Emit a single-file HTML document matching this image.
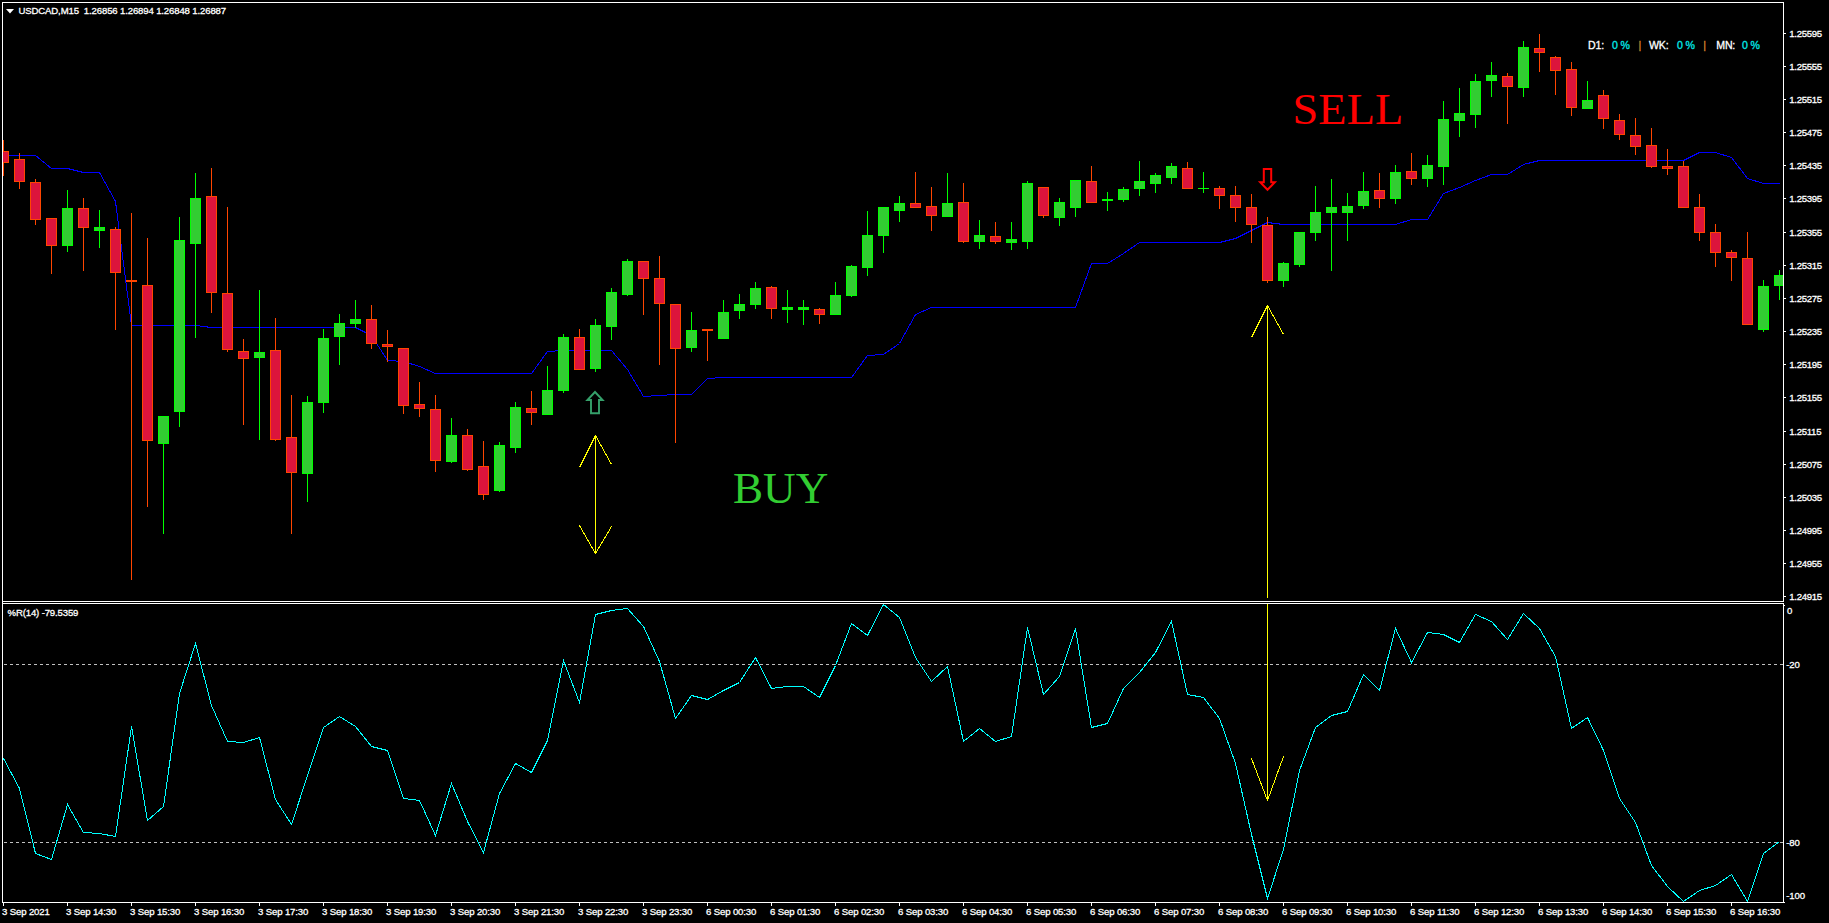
<!DOCTYPE html>
<html><head><meta charset="utf-8"><title>USDCAD,M15</title>
<style>
html,body{margin:0;padding:0;background:#000;}
body{width:1829px;height:923px;overflow:hidden;position:relative;}
svg{position:absolute;left:0;top:0;display:block;}
.t{font-family:"Liberation Sans",sans-serif;font-size:9.6px;letter-spacing:-0.15px;fill:#fff;stroke:#fff;stroke-width:0.3px;}
.n{letter-spacing:-0.3px;}
.d{font-size:10.6px;letter-spacing:-0.2px;}
.big{font-family:"Liberation Serif",serif;font-size:44.7px;}
</style></head><body>
<svg width="1829" height="923" viewBox="0 0 1829 923">
<rect width="1829" height="923" fill="#000"/>
<defs><clipPath id="cm"><rect x="3" y="3" width="1780" height="598"/></clipPath><clipPath id="ci"><rect x="3" y="604" width="1780" height="298"/></clipPath></defs>
<g fill="#fff" shape-rendering="crispEdges">
<rect x="2" y="2" width="1782" height="1"/>
<rect x="2" y="2" width="1" height="901"/>
<rect x="1783" y="2" width="1" height="901"/>
<rect x="2" y="601" width="1782" height="1"/>
<rect x="2" y="603" width="1782" height="1"/>
<rect x="2" y="902" width="1783" height="1"/>
<rect x="1784" y="33" width="2" height="1"/>
<rect x="1784" y="66" width="2" height="1"/>
<rect x="1784" y="99" width="2" height="1"/>
<rect x="1784" y="132" width="2" height="1"/>
<rect x="1784" y="165" width="2" height="1"/>
<rect x="1784" y="198" width="2" height="1"/>
<rect x="1784" y="232" width="2" height="1"/>
<rect x="1784" y="265" width="2" height="1"/>
<rect x="1784" y="298" width="2" height="1"/>
<rect x="1784" y="331" width="2" height="1"/>
<rect x="1784" y="364" width="2" height="1"/>
<rect x="1784" y="397" width="2" height="1"/>
<rect x="1784" y="431" width="2" height="1"/>
<rect x="1784" y="464" width="2" height="1"/>
<rect x="1784" y="497" width="2" height="1"/>
<rect x="1784" y="530" width="2" height="1"/>
<rect x="1784" y="563" width="2" height="1"/>
<rect x="1784" y="596" width="2" height="1"/>
<rect x="3" y="903" width="1" height="3"/>
<rect x="67" y="903" width="1" height="3"/>
<rect x="131" y="903" width="1" height="3"/>
<rect x="195" y="903" width="1" height="3"/>
<rect x="259" y="903" width="1" height="3"/>
<rect x="323" y="903" width="1" height="3"/>
<rect x="387" y="903" width="1" height="3"/>
<rect x="451" y="903" width="1" height="3"/>
<rect x="515" y="903" width="1" height="3"/>
<rect x="579" y="903" width="1" height="3"/>
<rect x="643" y="903" width="1" height="3"/>
<rect x="707" y="903" width="1" height="3"/>
<rect x="771" y="903" width="1" height="3"/>
<rect x="835" y="903" width="1" height="3"/>
<rect x="899" y="903" width="1" height="3"/>
<rect x="963" y="903" width="1" height="3"/>
<rect x="1027" y="903" width="1" height="3"/>
<rect x="1091" y="903" width="1" height="3"/>
<rect x="1155" y="903" width="1" height="3"/>
<rect x="1219" y="903" width="1" height="3"/>
<rect x="1283" y="903" width="1" height="3"/>
<rect x="1347" y="903" width="1" height="3"/>
<rect x="1411" y="903" width="1" height="3"/>
<rect x="1475" y="903" width="1" height="3"/>
<rect x="1539" y="903" width="1" height="3"/>
<rect x="1603" y="903" width="1" height="3"/>
<rect x="1667" y="903" width="1" height="3"/>
<rect x="1731" y="903" width="1" height="3"/>
<rect x="1784" y="605" width="1" height="1"/>
</g>
<rect x="1783" y="602" width="1" height="1" fill="#000" shape-rendering="crispEdges"/>
<g fill="#c0c0c0" shape-rendering="crispEdges">
<path d="M4 664h3v1h-3zM10 664h3v1h-3zM16 664h3v1h-3zM22 664h3v1h-3zM28 664h3v1h-3zM34 664h3v1h-3zM40 664h3v1h-3zM46 664h3v1h-3zM52 664h3v1h-3zM58 664h3v1h-3zM64 664h3v1h-3zM70 664h3v1h-3zM76 664h3v1h-3zM82 664h3v1h-3zM88 664h3v1h-3zM94 664h3v1h-3zM100 664h3v1h-3zM106 664h3v1h-3zM112 664h3v1h-3zM118 664h3v1h-3zM124 664h3v1h-3zM130 664h3v1h-3zM136 664h3v1h-3zM142 664h3v1h-3zM148 664h3v1h-3zM154 664h3v1h-3zM160 664h3v1h-3zM166 664h3v1h-3zM172 664h3v1h-3zM178 664h3v1h-3zM184 664h3v1h-3zM190 664h3v1h-3zM196 664h3v1h-3zM202 664h3v1h-3zM208 664h3v1h-3zM214 664h3v1h-3zM220 664h3v1h-3zM226 664h3v1h-3zM232 664h3v1h-3zM238 664h3v1h-3zM244 664h3v1h-3zM250 664h3v1h-3zM256 664h3v1h-3zM262 664h3v1h-3zM268 664h3v1h-3zM274 664h3v1h-3zM280 664h3v1h-3zM286 664h3v1h-3zM292 664h3v1h-3zM298 664h3v1h-3zM304 664h3v1h-3zM310 664h3v1h-3zM316 664h3v1h-3zM322 664h3v1h-3zM328 664h3v1h-3zM334 664h3v1h-3zM340 664h3v1h-3zM346 664h3v1h-3zM352 664h3v1h-3zM358 664h3v1h-3zM364 664h3v1h-3zM370 664h3v1h-3zM376 664h3v1h-3zM382 664h3v1h-3zM388 664h3v1h-3zM394 664h3v1h-3zM400 664h3v1h-3zM406 664h3v1h-3zM412 664h3v1h-3zM418 664h3v1h-3zM424 664h3v1h-3zM430 664h3v1h-3zM436 664h3v1h-3zM442 664h3v1h-3zM448 664h3v1h-3zM454 664h3v1h-3zM460 664h3v1h-3zM466 664h3v1h-3zM472 664h3v1h-3zM478 664h3v1h-3zM484 664h3v1h-3zM490 664h3v1h-3zM496 664h3v1h-3zM502 664h3v1h-3zM508 664h3v1h-3zM514 664h3v1h-3zM520 664h3v1h-3zM526 664h3v1h-3zM532 664h3v1h-3zM538 664h3v1h-3zM544 664h3v1h-3zM550 664h3v1h-3zM556 664h3v1h-3zM562 664h3v1h-3zM568 664h3v1h-3zM574 664h3v1h-3zM580 664h3v1h-3zM586 664h3v1h-3zM592 664h3v1h-3zM598 664h3v1h-3zM604 664h3v1h-3zM610 664h3v1h-3zM616 664h3v1h-3zM622 664h3v1h-3zM628 664h3v1h-3zM634 664h3v1h-3zM640 664h3v1h-3zM646 664h3v1h-3zM652 664h3v1h-3zM658 664h3v1h-3zM664 664h3v1h-3zM670 664h3v1h-3zM676 664h3v1h-3zM682 664h3v1h-3zM688 664h3v1h-3zM694 664h3v1h-3zM700 664h3v1h-3zM706 664h3v1h-3zM712 664h3v1h-3zM718 664h3v1h-3zM724 664h3v1h-3zM730 664h3v1h-3zM736 664h3v1h-3zM742 664h3v1h-3zM748 664h3v1h-3zM754 664h3v1h-3zM760 664h3v1h-3zM766 664h3v1h-3zM772 664h3v1h-3zM778 664h3v1h-3zM784 664h3v1h-3zM790 664h3v1h-3zM796 664h3v1h-3zM802 664h3v1h-3zM808 664h3v1h-3zM814 664h3v1h-3zM820 664h3v1h-3zM826 664h3v1h-3zM832 664h3v1h-3zM838 664h3v1h-3zM844 664h3v1h-3zM850 664h3v1h-3zM856 664h3v1h-3zM862 664h3v1h-3zM868 664h3v1h-3zM874 664h3v1h-3zM880 664h3v1h-3zM886 664h3v1h-3zM892 664h3v1h-3zM898 664h3v1h-3zM904 664h3v1h-3zM910 664h3v1h-3zM916 664h3v1h-3zM922 664h3v1h-3zM928 664h3v1h-3zM934 664h3v1h-3zM940 664h3v1h-3zM946 664h3v1h-3zM952 664h3v1h-3zM958 664h3v1h-3zM964 664h3v1h-3zM970 664h3v1h-3zM976 664h3v1h-3zM982 664h3v1h-3zM988 664h3v1h-3zM994 664h3v1h-3zM1000 664h3v1h-3zM1006 664h3v1h-3zM1012 664h3v1h-3zM1018 664h3v1h-3zM1024 664h3v1h-3zM1030 664h3v1h-3zM1036 664h3v1h-3zM1042 664h3v1h-3zM1048 664h3v1h-3zM1054 664h3v1h-3zM1060 664h3v1h-3zM1066 664h3v1h-3zM1072 664h3v1h-3zM1078 664h3v1h-3zM1084 664h3v1h-3zM1090 664h3v1h-3zM1096 664h3v1h-3zM1102 664h3v1h-3zM1108 664h3v1h-3zM1114 664h3v1h-3zM1120 664h3v1h-3zM1126 664h3v1h-3zM1132 664h3v1h-3zM1138 664h3v1h-3zM1144 664h3v1h-3zM1150 664h3v1h-3zM1156 664h3v1h-3zM1162 664h3v1h-3zM1168 664h3v1h-3zM1174 664h3v1h-3zM1180 664h3v1h-3zM1186 664h3v1h-3zM1192 664h3v1h-3zM1198 664h3v1h-3zM1204 664h3v1h-3zM1210 664h3v1h-3zM1216 664h3v1h-3zM1222 664h3v1h-3zM1228 664h3v1h-3zM1234 664h3v1h-3zM1240 664h3v1h-3zM1246 664h3v1h-3zM1252 664h3v1h-3zM1258 664h3v1h-3zM1264 664h3v1h-3zM1270 664h3v1h-3zM1276 664h3v1h-3zM1282 664h3v1h-3zM1288 664h3v1h-3zM1294 664h3v1h-3zM1300 664h3v1h-3zM1306 664h3v1h-3zM1312 664h3v1h-3zM1318 664h3v1h-3zM1324 664h3v1h-3zM1330 664h3v1h-3zM1336 664h3v1h-3zM1342 664h3v1h-3zM1348 664h3v1h-3zM1354 664h3v1h-3zM1360 664h3v1h-3zM1366 664h3v1h-3zM1372 664h3v1h-3zM1378 664h3v1h-3zM1384 664h3v1h-3zM1390 664h3v1h-3zM1396 664h3v1h-3zM1402 664h3v1h-3zM1408 664h3v1h-3zM1414 664h3v1h-3zM1420 664h3v1h-3zM1426 664h3v1h-3zM1432 664h3v1h-3zM1438 664h3v1h-3zM1444 664h3v1h-3zM1450 664h3v1h-3zM1456 664h3v1h-3zM1462 664h3v1h-3zM1468 664h3v1h-3zM1474 664h3v1h-3zM1480 664h3v1h-3zM1486 664h3v1h-3zM1492 664h3v1h-3zM1498 664h3v1h-3zM1504 664h3v1h-3zM1510 664h3v1h-3zM1516 664h3v1h-3zM1522 664h3v1h-3zM1528 664h3v1h-3zM1534 664h3v1h-3zM1540 664h3v1h-3zM1546 664h3v1h-3zM1552 664h3v1h-3zM1558 664h3v1h-3zM1564 664h3v1h-3zM1570 664h3v1h-3zM1576 664h3v1h-3zM1582 664h3v1h-3zM1588 664h3v1h-3zM1594 664h3v1h-3zM1600 664h3v1h-3zM1606 664h3v1h-3zM1612 664h3v1h-3zM1618 664h3v1h-3zM1624 664h3v1h-3zM1630 664h3v1h-3zM1636 664h3v1h-3zM1642 664h3v1h-3zM1648 664h3v1h-3zM1654 664h3v1h-3zM1660 664h3v1h-3zM1666 664h3v1h-3zM1672 664h3v1h-3zM1678 664h3v1h-3zM1684 664h3v1h-3zM1690 664h3v1h-3zM1696 664h3v1h-3zM1702 664h3v1h-3zM1708 664h3v1h-3zM1714 664h3v1h-3zM1720 664h3v1h-3zM1726 664h3v1h-3zM1732 664h3v1h-3zM1738 664h3v1h-3zM1744 664h3v1h-3zM1750 664h3v1h-3zM1756 664h3v1h-3zM1762 664h3v1h-3zM1768 664h3v1h-3zM1774 664h3v1h-3zM1780 664h3v1h-3z"/>
<path d="M4 842h3v1h-3zM10 842h3v1h-3zM16 842h3v1h-3zM22 842h3v1h-3zM28 842h3v1h-3zM34 842h3v1h-3zM40 842h3v1h-3zM46 842h3v1h-3zM52 842h3v1h-3zM58 842h3v1h-3zM64 842h3v1h-3zM70 842h3v1h-3zM76 842h3v1h-3zM82 842h3v1h-3zM88 842h3v1h-3zM94 842h3v1h-3zM100 842h3v1h-3zM106 842h3v1h-3zM112 842h3v1h-3zM118 842h3v1h-3zM124 842h3v1h-3zM130 842h3v1h-3zM136 842h3v1h-3zM142 842h3v1h-3zM148 842h3v1h-3zM154 842h3v1h-3zM160 842h3v1h-3zM166 842h3v1h-3zM172 842h3v1h-3zM178 842h3v1h-3zM184 842h3v1h-3zM190 842h3v1h-3zM196 842h3v1h-3zM202 842h3v1h-3zM208 842h3v1h-3zM214 842h3v1h-3zM220 842h3v1h-3zM226 842h3v1h-3zM232 842h3v1h-3zM238 842h3v1h-3zM244 842h3v1h-3zM250 842h3v1h-3zM256 842h3v1h-3zM262 842h3v1h-3zM268 842h3v1h-3zM274 842h3v1h-3zM280 842h3v1h-3zM286 842h3v1h-3zM292 842h3v1h-3zM298 842h3v1h-3zM304 842h3v1h-3zM310 842h3v1h-3zM316 842h3v1h-3zM322 842h3v1h-3zM328 842h3v1h-3zM334 842h3v1h-3zM340 842h3v1h-3zM346 842h3v1h-3zM352 842h3v1h-3zM358 842h3v1h-3zM364 842h3v1h-3zM370 842h3v1h-3zM376 842h3v1h-3zM382 842h3v1h-3zM388 842h3v1h-3zM394 842h3v1h-3zM400 842h3v1h-3zM406 842h3v1h-3zM412 842h3v1h-3zM418 842h3v1h-3zM424 842h3v1h-3zM430 842h3v1h-3zM436 842h3v1h-3zM442 842h3v1h-3zM448 842h3v1h-3zM454 842h3v1h-3zM460 842h3v1h-3zM466 842h3v1h-3zM472 842h3v1h-3zM478 842h3v1h-3zM484 842h3v1h-3zM490 842h3v1h-3zM496 842h3v1h-3zM502 842h3v1h-3zM508 842h3v1h-3zM514 842h3v1h-3zM520 842h3v1h-3zM526 842h3v1h-3zM532 842h3v1h-3zM538 842h3v1h-3zM544 842h3v1h-3zM550 842h3v1h-3zM556 842h3v1h-3zM562 842h3v1h-3zM568 842h3v1h-3zM574 842h3v1h-3zM580 842h3v1h-3zM586 842h3v1h-3zM592 842h3v1h-3zM598 842h3v1h-3zM604 842h3v1h-3zM610 842h3v1h-3zM616 842h3v1h-3zM622 842h3v1h-3zM628 842h3v1h-3zM634 842h3v1h-3zM640 842h3v1h-3zM646 842h3v1h-3zM652 842h3v1h-3zM658 842h3v1h-3zM664 842h3v1h-3zM670 842h3v1h-3zM676 842h3v1h-3zM682 842h3v1h-3zM688 842h3v1h-3zM694 842h3v1h-3zM700 842h3v1h-3zM706 842h3v1h-3zM712 842h3v1h-3zM718 842h3v1h-3zM724 842h3v1h-3zM730 842h3v1h-3zM736 842h3v1h-3zM742 842h3v1h-3zM748 842h3v1h-3zM754 842h3v1h-3zM760 842h3v1h-3zM766 842h3v1h-3zM772 842h3v1h-3zM778 842h3v1h-3zM784 842h3v1h-3zM790 842h3v1h-3zM796 842h3v1h-3zM802 842h3v1h-3zM808 842h3v1h-3zM814 842h3v1h-3zM820 842h3v1h-3zM826 842h3v1h-3zM832 842h3v1h-3zM838 842h3v1h-3zM844 842h3v1h-3zM850 842h3v1h-3zM856 842h3v1h-3zM862 842h3v1h-3zM868 842h3v1h-3zM874 842h3v1h-3zM880 842h3v1h-3zM886 842h3v1h-3zM892 842h3v1h-3zM898 842h3v1h-3zM904 842h3v1h-3zM910 842h3v1h-3zM916 842h3v1h-3zM922 842h3v1h-3zM928 842h3v1h-3zM934 842h3v1h-3zM940 842h3v1h-3zM946 842h3v1h-3zM952 842h3v1h-3zM958 842h3v1h-3zM964 842h3v1h-3zM970 842h3v1h-3zM976 842h3v1h-3zM982 842h3v1h-3zM988 842h3v1h-3zM994 842h3v1h-3zM1000 842h3v1h-3zM1006 842h3v1h-3zM1012 842h3v1h-3zM1018 842h3v1h-3zM1024 842h3v1h-3zM1030 842h3v1h-3zM1036 842h3v1h-3zM1042 842h3v1h-3zM1048 842h3v1h-3zM1054 842h3v1h-3zM1060 842h3v1h-3zM1066 842h3v1h-3zM1072 842h3v1h-3zM1078 842h3v1h-3zM1084 842h3v1h-3zM1090 842h3v1h-3zM1096 842h3v1h-3zM1102 842h3v1h-3zM1108 842h3v1h-3zM1114 842h3v1h-3zM1120 842h3v1h-3zM1126 842h3v1h-3zM1132 842h3v1h-3zM1138 842h3v1h-3zM1144 842h3v1h-3zM1150 842h3v1h-3zM1156 842h3v1h-3zM1162 842h3v1h-3zM1168 842h3v1h-3zM1174 842h3v1h-3zM1180 842h3v1h-3zM1186 842h3v1h-3zM1192 842h3v1h-3zM1198 842h3v1h-3zM1204 842h3v1h-3zM1210 842h3v1h-3zM1216 842h3v1h-3zM1222 842h3v1h-3zM1228 842h3v1h-3zM1234 842h3v1h-3zM1240 842h3v1h-3zM1246 842h3v1h-3zM1252 842h3v1h-3zM1258 842h3v1h-3zM1264 842h3v1h-3zM1270 842h3v1h-3zM1276 842h3v1h-3zM1282 842h3v1h-3zM1288 842h3v1h-3zM1294 842h3v1h-3zM1300 842h3v1h-3zM1306 842h3v1h-3zM1312 842h3v1h-3zM1318 842h3v1h-3zM1324 842h3v1h-3zM1330 842h3v1h-3zM1336 842h3v1h-3zM1342 842h3v1h-3zM1348 842h3v1h-3zM1354 842h3v1h-3zM1360 842h3v1h-3zM1366 842h3v1h-3zM1372 842h3v1h-3zM1378 842h3v1h-3zM1384 842h3v1h-3zM1390 842h3v1h-3zM1396 842h3v1h-3zM1402 842h3v1h-3zM1408 842h3v1h-3zM1414 842h3v1h-3zM1420 842h3v1h-3zM1426 842h3v1h-3zM1432 842h3v1h-3zM1438 842h3v1h-3zM1444 842h3v1h-3zM1450 842h3v1h-3zM1456 842h3v1h-3zM1462 842h3v1h-3zM1468 842h3v1h-3zM1474 842h3v1h-3zM1480 842h3v1h-3zM1486 842h3v1h-3zM1492 842h3v1h-3zM1498 842h3v1h-3zM1504 842h3v1h-3zM1510 842h3v1h-3zM1516 842h3v1h-3zM1522 842h3v1h-3zM1528 842h3v1h-3zM1534 842h3v1h-3zM1540 842h3v1h-3zM1546 842h3v1h-3zM1552 842h3v1h-3zM1558 842h3v1h-3zM1564 842h3v1h-3zM1570 842h3v1h-3zM1576 842h3v1h-3zM1582 842h3v1h-3zM1588 842h3v1h-3zM1594 842h3v1h-3zM1600 842h3v1h-3zM1606 842h3v1h-3zM1612 842h3v1h-3zM1618 842h3v1h-3zM1624 842h3v1h-3zM1630 842h3v1h-3zM1636 842h3v1h-3zM1642 842h3v1h-3zM1648 842h3v1h-3zM1654 842h3v1h-3zM1660 842h3v1h-3zM1666 842h3v1h-3zM1672 842h3v1h-3zM1678 842h3v1h-3zM1684 842h3v1h-3zM1690 842h3v1h-3zM1696 842h3v1h-3zM1702 842h3v1h-3zM1708 842h3v1h-3zM1714 842h3v1h-3zM1720 842h3v1h-3zM1726 842h3v1h-3zM1732 842h3v1h-3zM1738 842h3v1h-3zM1744 842h3v1h-3zM1750 842h3v1h-3zM1756 842h3v1h-3zM1762 842h3v1h-3zM1768 842h3v1h-3zM1774 842h3v1h-3zM1780 842h3v1h-3z"/>
</g>
<g clip-path="url(#cm)" shape-rendering="crispEdges">
<polyline points="3.5,155.5 19.5,155.5 35.5,155.5 51.5,168.5 67.5,168.5 83.5,172.5 99.5,172.5 115.5,201.5 131.5,325.5 147.5,325.5 163.5,325.5 179.5,325.5 195.5,325.5 211.5,327.5 227.5,327.5 243.5,327.5 259.5,327.5 275.5,327.5 291.5,327.5 307.5,327.5 323.5,327.5 339.5,327.5 355.5,327.5 371.5,335.5 387.5,360.5 403.5,361.5 419.5,366.5 435.5,373.5 451.5,373.5 467.5,373.5 483.5,373.5 499.5,373.5 515.5,373.5 531.5,373.5 547.5,351.5 563.5,350.5 579.5,350.5 595.5,350.5 611.5,350.5 627.5,369.5 643.5,396.5 659.5,395.5 675.5,394.5 691.5,394.5 707.5,378.5 723.5,377.5 739.5,377.5 755.5,377.5 771.5,377.5 787.5,377.5 803.5,377.5 819.5,377.5 835.5,377.5 851.5,377.5 867.5,355.5 883.5,354.5 899.5,343.5 915.5,314.5 931.5,307.5 947.5,307.5 963.5,307.5 979.5,307.5 995.5,307.5 1011.5,307.5 1027.5,307.5 1043.5,307.5 1059.5,307.5 1075.5,307.5 1091.5,263.5 1107.5,263.5 1123.5,253.5 1139.5,242.5 1155.5,242.5 1171.5,242.5 1187.5,242.5 1203.5,242.5 1219.5,242.5 1235.5,238.5 1251.5,230.5 1267.5,222.5 1283.5,224.5 1299.5,224.5 1315.5,224.5 1331.5,224.5 1347.5,224.5 1363.5,224.5 1379.5,224.5 1395.5,224.5 1411.5,219.5 1427.5,219.5 1443.5,193.5 1459.5,187.5 1475.5,180.5 1491.5,174.5 1507.5,174.5 1523.5,164.5 1539.5,160.5 1555.5,160.5 1571.5,160.5 1587.5,160.5 1603.5,160.5 1619.5,160.5 1635.5,160.5 1651.5,160.5 1667.5,160.5 1683.5,160.5 1699.5,152.5 1715.5,152.5 1731.5,157.5 1747.5,178.5 1763.5,183.5 1779.5,183.5" fill="none" stroke="#0000ff" stroke-width="1"/>
<rect x="3" y="140" width="1" height="36" fill="#ff4500"/><rect x="-2" y="151" width="11" height="12" fill="#ff4500"/><rect x="-1" y="152" width="9" height="10" fill="#dc143c"/>
<rect x="19" y="153" width="1" height="36" fill="#ff4500"/><rect x="14" y="159" width="11" height="23" fill="#ff4500"/><rect x="15" y="160" width="9" height="21" fill="#dc143c"/>
<rect x="35" y="179" width="1" height="46" fill="#ff4500"/><rect x="30" y="182" width="11" height="38" fill="#ff4500"/><rect x="31" y="183" width="9" height="36" fill="#dc143c"/>
<rect x="51" y="218" width="1" height="56" fill="#ff4500"/><rect x="46" y="218" width="11" height="28" fill="#ff4500"/><rect x="47" y="219" width="9" height="26" fill="#dc143c"/>
<rect x="67" y="190" width="1" height="62" fill="#00ff00"/><rect x="62" y="208" width="11" height="38" fill="#00ff00"/><rect x="63" y="209" width="9" height="36" fill="#32cd32"/>
<rect x="83" y="198" width="1" height="73" fill="#ff4500"/><rect x="78" y="208" width="11" height="20" fill="#ff4500"/><rect x="79" y="209" width="9" height="18" fill="#dc143c"/>
<rect x="99" y="210" width="1" height="38" fill="#00ff00"/><rect x="94" y="227" width="11" height="4" fill="#00ff00"/><rect x="95" y="228" width="9" height="2" fill="#32cd32"/>
<rect x="115" y="227" width="1" height="103" fill="#ff4500"/><rect x="110" y="229" width="11" height="44" fill="#ff4500"/><rect x="111" y="230" width="9" height="42" fill="#dc143c"/>
<rect x="131" y="213" width="1" height="367" fill="#ff4500"/><rect x="126" y="280" width="11" height="2" fill="#ff4500"/>
<rect x="147" y="238" width="1" height="269" fill="#ff4500"/><rect x="142" y="285" width="11" height="156" fill="#ff4500"/><rect x="143" y="286" width="9" height="154" fill="#dc143c"/>
<rect x="163" y="416" width="1" height="118" fill="#00ff00"/><rect x="158" y="416" width="11" height="28" fill="#00ff00"/><rect x="159" y="417" width="9" height="26" fill="#32cd32"/>
<rect x="179" y="217" width="1" height="210" fill="#00ff00"/><rect x="174" y="240" width="11" height="172" fill="#00ff00"/><rect x="175" y="241" width="9" height="170" fill="#32cd32"/>
<rect x="195" y="173" width="1" height="165" fill="#00ff00"/><rect x="190" y="198" width="11" height="46" fill="#00ff00"/><rect x="191" y="199" width="9" height="44" fill="#32cd32"/>
<rect x="211" y="168" width="1" height="145" fill="#ff4500"/><rect x="206" y="196" width="11" height="97" fill="#ff4500"/><rect x="207" y="197" width="9" height="95" fill="#dc143c"/>
<rect x="227" y="207" width="1" height="145" fill="#ff4500"/><rect x="222" y="293" width="11" height="57" fill="#ff4500"/><rect x="223" y="294" width="9" height="55" fill="#dc143c"/>
<rect x="243" y="339" width="1" height="86" fill="#ff4500"/><rect x="238" y="351" width="11" height="8" fill="#ff4500"/><rect x="239" y="352" width="9" height="6" fill="#dc143c"/>
<rect x="259" y="290" width="1" height="150" fill="#00ff00"/><rect x="254" y="352" width="11" height="6" fill="#00ff00"/><rect x="255" y="353" width="9" height="4" fill="#32cd32"/>
<rect x="275" y="318" width="1" height="123" fill="#ff4500"/><rect x="270" y="350" width="11" height="90" fill="#ff4500"/><rect x="271" y="351" width="9" height="88" fill="#dc143c"/>
<rect x="291" y="395" width="1" height="139" fill="#ff4500"/><rect x="286" y="437" width="11" height="36" fill="#ff4500"/><rect x="287" y="438" width="9" height="34" fill="#dc143c"/>
<rect x="307" y="396" width="1" height="106" fill="#00ff00"/><rect x="302" y="402" width="11" height="72" fill="#00ff00"/><rect x="303" y="403" width="9" height="70" fill="#32cd32"/>
<rect x="323" y="329" width="1" height="84" fill="#00ff00"/><rect x="318" y="338" width="11" height="65" fill="#00ff00"/><rect x="319" y="339" width="9" height="63" fill="#32cd32"/>
<rect x="339" y="314" width="1" height="51" fill="#00ff00"/><rect x="334" y="323" width="11" height="14" fill="#00ff00"/><rect x="335" y="324" width="9" height="12" fill="#32cd32"/>
<rect x="355" y="300" width="1" height="28" fill="#00ff00"/><rect x="350" y="319" width="11" height="5" fill="#00ff00"/><rect x="351" y="320" width="9" height="3" fill="#32cd32"/>
<rect x="371" y="305" width="1" height="44" fill="#ff4500"/><rect x="366" y="319" width="11" height="25" fill="#ff4500"/><rect x="367" y="320" width="9" height="23" fill="#dc143c"/>
<rect x="387" y="330" width="1" height="32" fill="#ff4500"/><rect x="382" y="344" width="11" height="3" fill="#ff4500"/><rect x="383" y="345" width="9" height="1" fill="#dc143c"/>
<rect x="403" y="348" width="1" height="66" fill="#ff4500"/><rect x="398" y="348" width="11" height="58" fill="#ff4500"/><rect x="399" y="349" width="9" height="56" fill="#dc143c"/>
<rect x="419" y="382" width="1" height="35" fill="#ff4500"/><rect x="414" y="404" width="11" height="5" fill="#ff4500"/><rect x="415" y="405" width="9" height="3" fill="#dc143c"/>
<rect x="435" y="395" width="1" height="77" fill="#ff4500"/><rect x="430" y="409" width="11" height="52" fill="#ff4500"/><rect x="431" y="410" width="9" height="50" fill="#dc143c"/>
<rect x="451" y="418" width="1" height="45" fill="#00ff00"/><rect x="446" y="435" width="11" height="27" fill="#00ff00"/><rect x="447" y="436" width="9" height="25" fill="#32cd32"/>
<rect x="467" y="429" width="1" height="42" fill="#ff4500"/><rect x="462" y="435" width="11" height="35" fill="#ff4500"/><rect x="463" y="436" width="9" height="33" fill="#dc143c"/>
<rect x="483" y="441" width="1" height="59" fill="#ff4500"/><rect x="478" y="466" width="11" height="29" fill="#ff4500"/><rect x="479" y="467" width="9" height="27" fill="#dc143c"/>
<rect x="499" y="442" width="1" height="50" fill="#00ff00"/><rect x="494" y="445" width="11" height="46" fill="#00ff00"/><rect x="495" y="446" width="9" height="44" fill="#32cd32"/>
<rect x="515" y="402" width="1" height="51" fill="#00ff00"/><rect x="510" y="407" width="11" height="41" fill="#00ff00"/><rect x="511" y="408" width="9" height="39" fill="#32cd32"/>
<rect x="531" y="391" width="1" height="34" fill="#ff4500"/><rect x="526" y="408" width="11" height="5" fill="#ff4500"/><rect x="527" y="409" width="9" height="3" fill="#dc143c"/>
<rect x="547" y="366" width="1" height="49" fill="#00ff00"/><rect x="542" y="390" width="11" height="25" fill="#00ff00"/><rect x="543" y="391" width="9" height="23" fill="#32cd32"/>
<rect x="563" y="334" width="1" height="59" fill="#00ff00"/><rect x="558" y="337" width="11" height="54" fill="#00ff00"/><rect x="559" y="338" width="9" height="52" fill="#32cd32"/>
<rect x="579" y="329" width="1" height="41" fill="#ff4500"/><rect x="574" y="337" width="11" height="33" fill="#ff4500"/><rect x="575" y="338" width="9" height="31" fill="#dc143c"/>
<rect x="595" y="319" width="1" height="53" fill="#00ff00"/><rect x="590" y="325" width="11" height="44" fill="#00ff00"/><rect x="591" y="326" width="9" height="42" fill="#32cd32"/>
<rect x="611" y="288" width="1" height="52" fill="#00ff00"/><rect x="606" y="292" width="11" height="35" fill="#00ff00"/><rect x="607" y="293" width="9" height="33" fill="#32cd32"/>
<rect x="627" y="259" width="1" height="37" fill="#00ff00"/><rect x="622" y="261" width="11" height="34" fill="#00ff00"/><rect x="623" y="262" width="9" height="32" fill="#32cd32"/>
<rect x="643" y="261" width="1" height="54" fill="#ff4500"/><rect x="638" y="261" width="11" height="18" fill="#ff4500"/><rect x="639" y="262" width="9" height="16" fill="#dc143c"/>
<rect x="659" y="256" width="1" height="109" fill="#ff4500"/><rect x="654" y="278" width="11" height="26" fill="#ff4500"/><rect x="655" y="279" width="9" height="24" fill="#dc143c"/>
<rect x="675" y="304" width="1" height="139" fill="#ff4500"/><rect x="670" y="304" width="11" height="45" fill="#ff4500"/><rect x="671" y="305" width="9" height="43" fill="#dc143c"/>
<rect x="691" y="312" width="1" height="40" fill="#00ff00"/><rect x="686" y="330" width="11" height="18" fill="#00ff00"/><rect x="687" y="331" width="9" height="16" fill="#32cd32"/>
<rect x="707" y="329" width="1" height="32" fill="#ff4500"/><rect x="702" y="329" width="11" height="2" fill="#ff4500"/>
<rect x="723" y="300" width="1" height="39" fill="#00ff00"/><rect x="718" y="312" width="11" height="27" fill="#00ff00"/><rect x="719" y="313" width="9" height="25" fill="#32cd32"/>
<rect x="739" y="294" width="1" height="25" fill="#00ff00"/><rect x="734" y="304" width="11" height="7" fill="#00ff00"/><rect x="735" y="305" width="9" height="5" fill="#32cd32"/>
<rect x="755" y="282" width="1" height="27" fill="#00ff00"/><rect x="750" y="288" width="11" height="17" fill="#00ff00"/><rect x="751" y="289" width="9" height="15" fill="#32cd32"/>
<rect x="771" y="286" width="1" height="33" fill="#ff4500"/><rect x="766" y="287" width="11" height="22" fill="#ff4500"/><rect x="767" y="288" width="9" height="20" fill="#dc143c"/>
<rect x="787" y="290" width="1" height="33" fill="#00ff00"/><rect x="782" y="307" width="11" height="3" fill="#00ff00"/><rect x="783" y="308" width="9" height="1" fill="#32cd32"/>
<rect x="803" y="300" width="1" height="25" fill="#00ff00"/><rect x="798" y="307" width="11" height="3" fill="#00ff00"/><rect x="799" y="308" width="9" height="1" fill="#32cd32"/>
<rect x="819" y="308" width="1" height="16" fill="#ff4500"/><rect x="814" y="309" width="11" height="6" fill="#ff4500"/><rect x="815" y="310" width="9" height="4" fill="#dc143c"/>
<rect x="835" y="282" width="1" height="33" fill="#00ff00"/><rect x="830" y="295" width="11" height="20" fill="#00ff00"/><rect x="831" y="296" width="9" height="18" fill="#32cd32"/>
<rect x="851" y="265" width="1" height="32" fill="#00ff00"/><rect x="846" y="266" width="11" height="30" fill="#00ff00"/><rect x="847" y="267" width="9" height="28" fill="#32cd32"/>
<rect x="867" y="211" width="1" height="65" fill="#00ff00"/><rect x="862" y="235" width="11" height="33" fill="#00ff00"/><rect x="863" y="236" width="9" height="31" fill="#32cd32"/>
<rect x="883" y="207" width="1" height="46" fill="#00ff00"/><rect x="878" y="207" width="11" height="29" fill="#00ff00"/><rect x="879" y="208" width="9" height="27" fill="#32cd32"/>
<rect x="899" y="196" width="1" height="26" fill="#00ff00"/><rect x="894" y="203" width="11" height="8" fill="#00ff00"/><rect x="895" y="204" width="9" height="6" fill="#32cd32"/>
<rect x="915" y="172" width="1" height="36" fill="#ff4500"/><rect x="910" y="203" width="11" height="5" fill="#ff4500"/><rect x="911" y="204" width="9" height="3" fill="#dc143c"/>
<rect x="931" y="187" width="1" height="44" fill="#ff4500"/><rect x="926" y="206" width="11" height="10" fill="#ff4500"/><rect x="927" y="207" width="9" height="8" fill="#dc143c"/>
<rect x="947" y="173" width="1" height="44" fill="#00ff00"/><rect x="942" y="203" width="11" height="14" fill="#00ff00"/><rect x="943" y="204" width="9" height="12" fill="#32cd32"/>
<rect x="963" y="183" width="1" height="60" fill="#ff4500"/><rect x="958" y="202" width="11" height="40" fill="#ff4500"/><rect x="959" y="203" width="9" height="38" fill="#dc143c"/>
<rect x="979" y="220" width="1" height="29" fill="#00ff00"/><rect x="974" y="235" width="11" height="7" fill="#00ff00"/><rect x="975" y="236" width="9" height="5" fill="#32cd32"/>
<rect x="995" y="222" width="1" height="22" fill="#ff4500"/><rect x="990" y="236" width="11" height="6" fill="#ff4500"/><rect x="991" y="237" width="9" height="4" fill="#dc143c"/>
<rect x="1011" y="222" width="1" height="28" fill="#00ff00"/><rect x="1006" y="239" width="11" height="4" fill="#00ff00"/><rect x="1007" y="240" width="9" height="2" fill="#32cd32"/>
<rect x="1027" y="181" width="1" height="68" fill="#00ff00"/><rect x="1022" y="183" width="11" height="59" fill="#00ff00"/><rect x="1023" y="184" width="9" height="57" fill="#32cd32"/>
<rect x="1043" y="187" width="1" height="31" fill="#ff4500"/><rect x="1038" y="187" width="11" height="29" fill="#ff4500"/><rect x="1039" y="188" width="9" height="27" fill="#dc143c"/>
<rect x="1059" y="198" width="1" height="28" fill="#00ff00"/><rect x="1054" y="202" width="11" height="16" fill="#00ff00"/><rect x="1055" y="203" width="9" height="14" fill="#32cd32"/>
<rect x="1075" y="180" width="1" height="37" fill="#00ff00"/><rect x="1070" y="180" width="11" height="28" fill="#00ff00"/><rect x="1071" y="181" width="9" height="26" fill="#32cd32"/>
<rect x="1091" y="166" width="1" height="37" fill="#ff4500"/><rect x="1086" y="181" width="11" height="22" fill="#ff4500"/><rect x="1087" y="182" width="9" height="20" fill="#dc143c"/>
<rect x="1107" y="192" width="1" height="19" fill="#00ff00"/><rect x="1102" y="199" width="11" height="2" fill="#00ff00"/>
<rect x="1123" y="187" width="1" height="15" fill="#00ff00"/><rect x="1118" y="189" width="11" height="11" fill="#00ff00"/><rect x="1119" y="190" width="9" height="9" fill="#32cd32"/>
<rect x="1139" y="161" width="1" height="35" fill="#00ff00"/><rect x="1134" y="181" width="11" height="8" fill="#00ff00"/><rect x="1135" y="182" width="9" height="6" fill="#32cd32"/>
<rect x="1155" y="173" width="1" height="20" fill="#00ff00"/><rect x="1150" y="175" width="11" height="9" fill="#00ff00"/><rect x="1151" y="176" width="9" height="7" fill="#32cd32"/>
<rect x="1171" y="163" width="1" height="21" fill="#00ff00"/><rect x="1166" y="166" width="11" height="12" fill="#00ff00"/><rect x="1167" y="167" width="9" height="10" fill="#32cd32"/>
<rect x="1187" y="162" width="1" height="27" fill="#ff4500"/><rect x="1182" y="168" width="11" height="21" fill="#ff4500"/><rect x="1183" y="169" width="9" height="19" fill="#dc143c"/>
<rect x="1203" y="172" width="1" height="21" fill="#00ff00"/><rect x="1198" y="188" width="11" height="1" fill="#00ff00"/>
<rect x="1219" y="186" width="1" height="23" fill="#ff4500"/><rect x="1214" y="188" width="11" height="8" fill="#ff4500"/><rect x="1215" y="189" width="9" height="6" fill="#dc143c"/>
<rect x="1235" y="186" width="1" height="36" fill="#ff4500"/><rect x="1230" y="195" width="11" height="13" fill="#ff4500"/><rect x="1231" y="196" width="9" height="11" fill="#dc143c"/>
<rect x="1251" y="194" width="1" height="49" fill="#ff4500"/><rect x="1246" y="207" width="11" height="18" fill="#ff4500"/><rect x="1247" y="208" width="9" height="16" fill="#dc143c"/>
<rect x="1267" y="217" width="1" height="66" fill="#ff4500"/><rect x="1262" y="225" width="11" height="56" fill="#ff4500"/><rect x="1263" y="226" width="9" height="54" fill="#dc143c"/>
<rect x="1283" y="262" width="1" height="25" fill="#00ff00"/><rect x="1278" y="263" width="11" height="18" fill="#00ff00"/><rect x="1279" y="264" width="9" height="16" fill="#32cd32"/>
<rect x="1299" y="232" width="1" height="35" fill="#00ff00"/><rect x="1294" y="232" width="11" height="33" fill="#00ff00"/><rect x="1295" y="233" width="9" height="31" fill="#32cd32"/>
<rect x="1315" y="186" width="1" height="55" fill="#00ff00"/><rect x="1310" y="212" width="11" height="21" fill="#00ff00"/><rect x="1311" y="213" width="9" height="19" fill="#32cd32"/>
<rect x="1331" y="179" width="1" height="92" fill="#00ff00"/><rect x="1326" y="207" width="11" height="6" fill="#00ff00"/><rect x="1327" y="208" width="9" height="4" fill="#32cd32"/>
<rect x="1347" y="193" width="1" height="48" fill="#00ff00"/><rect x="1342" y="206" width="11" height="7" fill="#00ff00"/><rect x="1343" y="207" width="9" height="5" fill="#32cd32"/>
<rect x="1363" y="172" width="1" height="37" fill="#00ff00"/><rect x="1358" y="191" width="11" height="15" fill="#00ff00"/><rect x="1359" y="192" width="9" height="13" fill="#32cd32"/>
<rect x="1379" y="173" width="1" height="35" fill="#ff4500"/><rect x="1374" y="190" width="11" height="9" fill="#ff4500"/><rect x="1375" y="191" width="9" height="7" fill="#dc143c"/>
<rect x="1395" y="165" width="1" height="39" fill="#00ff00"/><rect x="1390" y="172" width="11" height="27" fill="#00ff00"/><rect x="1391" y="173" width="9" height="25" fill="#32cd32"/>
<rect x="1411" y="153" width="1" height="32" fill="#ff4500"/><rect x="1406" y="171" width="11" height="8" fill="#ff4500"/><rect x="1407" y="172" width="9" height="6" fill="#dc143c"/>
<rect x="1427" y="155" width="1" height="32" fill="#00ff00"/><rect x="1422" y="165" width="11" height="14" fill="#00ff00"/><rect x="1423" y="166" width="9" height="12" fill="#32cd32"/>
<rect x="1443" y="101" width="1" height="84" fill="#00ff00"/><rect x="1438" y="119" width="11" height="48" fill="#00ff00"/><rect x="1439" y="120" width="9" height="46" fill="#32cd32"/>
<rect x="1459" y="88" width="1" height="49" fill="#00ff00"/><rect x="1454" y="113" width="11" height="8" fill="#00ff00"/><rect x="1455" y="114" width="9" height="6" fill="#32cd32"/>
<rect x="1475" y="74" width="1" height="54" fill="#00ff00"/><rect x="1470" y="81" width="11" height="34" fill="#00ff00"/><rect x="1471" y="82" width="9" height="32" fill="#32cd32"/>
<rect x="1491" y="62" width="1" height="35" fill="#00ff00"/><rect x="1486" y="75" width="11" height="6" fill="#00ff00"/><rect x="1487" y="76" width="9" height="4" fill="#32cd32"/>
<rect x="1507" y="73" width="1" height="51" fill="#ff4500"/><rect x="1502" y="76" width="11" height="11" fill="#ff4500"/><rect x="1503" y="77" width="9" height="9" fill="#dc143c"/>
<rect x="1523" y="41" width="1" height="56" fill="#00ff00"/><rect x="1518" y="47" width="11" height="41" fill="#00ff00"/><rect x="1519" y="48" width="9" height="39" fill="#32cd32"/>
<rect x="1539" y="34" width="1" height="38" fill="#ff4500"/><rect x="1534" y="48" width="11" height="5" fill="#ff4500"/><rect x="1535" y="49" width="9" height="3" fill="#dc143c"/>
<rect x="1555" y="56" width="1" height="39" fill="#ff4500"/><rect x="1550" y="57" width="11" height="14" fill="#ff4500"/><rect x="1551" y="58" width="9" height="12" fill="#dc143c"/>
<rect x="1571" y="62" width="1" height="54" fill="#ff4500"/><rect x="1566" y="69" width="11" height="39" fill="#ff4500"/><rect x="1567" y="70" width="9" height="37" fill="#dc143c"/>
<rect x="1587" y="81" width="1" height="28" fill="#00ff00"/><rect x="1582" y="100" width="11" height="9" fill="#00ff00"/><rect x="1583" y="101" width="9" height="7" fill="#32cd32"/>
<rect x="1603" y="90" width="1" height="39" fill="#ff4500"/><rect x="1598" y="95" width="11" height="24" fill="#ff4500"/><rect x="1599" y="96" width="9" height="22" fill="#dc143c"/>
<rect x="1619" y="114" width="1" height="26" fill="#ff4500"/><rect x="1614" y="120" width="11" height="15" fill="#ff4500"/><rect x="1615" y="121" width="9" height="13" fill="#dc143c"/>
<rect x="1635" y="118" width="1" height="37" fill="#ff4500"/><rect x="1630" y="135" width="11" height="12" fill="#ff4500"/><rect x="1631" y="136" width="9" height="10" fill="#dc143c"/>
<rect x="1651" y="128" width="1" height="40" fill="#ff4500"/><rect x="1646" y="145" width="11" height="22" fill="#ff4500"/><rect x="1647" y="146" width="9" height="20" fill="#dc143c"/>
<rect x="1667" y="149" width="1" height="26" fill="#ff4500"/><rect x="1662" y="166" width="11" height="3" fill="#ff4500"/><rect x="1663" y="167" width="9" height="1" fill="#dc143c"/>
<rect x="1683" y="161" width="1" height="47" fill="#ff4500"/><rect x="1678" y="166" width="11" height="42" fill="#ff4500"/><rect x="1679" y="167" width="9" height="40" fill="#dc143c"/>
<rect x="1699" y="194" width="1" height="47" fill="#ff4500"/><rect x="1694" y="207" width="11" height="26" fill="#ff4500"/><rect x="1695" y="208" width="9" height="24" fill="#dc143c"/>
<rect x="1715" y="224" width="1" height="43" fill="#ff4500"/><rect x="1710" y="232" width="11" height="21" fill="#ff4500"/><rect x="1711" y="233" width="9" height="19" fill="#dc143c"/>
<rect x="1731" y="250" width="1" height="31" fill="#ff4500"/><rect x="1726" y="252" width="11" height="6" fill="#ff4500"/><rect x="1727" y="253" width="9" height="4" fill="#dc143c"/>
<rect x="1747" y="232" width="1" height="93" fill="#ff4500"/><rect x="1742" y="258" width="11" height="67" fill="#ff4500"/><rect x="1743" y="259" width="9" height="65" fill="#dc143c"/>
<rect x="1763" y="280" width="1" height="52" fill="#00ff00"/><rect x="1758" y="286" width="11" height="44" fill="#00ff00"/><rect x="1759" y="287" width="9" height="42" fill="#32cd32"/>
<rect x="1779" y="270" width="1" height="30" fill="#00ff00"/><rect x="1774" y="275" width="11" height="11" fill="#00ff00"/><rect x="1775" y="276" width="9" height="9" fill="#32cd32"/>
</g>
<g clip-path="url(#ci)" shape-rendering="crispEdges">
<polyline points="3.5,758.5 19.5,788.5 35.5,853.5 51.5,859.5 67.5,804.5 83.5,832.5 99.5,833.5 115.5,836.5 131.5,726.5 147.5,820.5 163.5,806.5 179.5,693.5 195.5,643.5 211.5,705.5 227.5,741.5 243.5,742.5 259.5,737.5 275.5,799.5 291.5,824.5 307.5,775.5 323.5,727.5 339.5,716.5 355.5,726.5 371.5,746.5 387.5,750.5 403.5,798.5 419.5,800.5 435.5,835.5 451.5,783.5 467.5,821.5 483.5,852.5 499.5,793.5 515.5,763.5 531.5,772.5 547.5,740.5 563.5,660.5 579.5,702.5 595.5,614.5 611.5,610.5 627.5,608.5 643.5,626.5 659.5,661.5 675.5,718.5 691.5,695.5 707.5,699.5 723.5,690.5 739.5,682.5 755.5,657.5 771.5,688.5 787.5,686.5 803.5,686.5 819.5,697.5 835.5,665.5 851.5,623.5 867.5,635.5 883.5,604.5 899.5,617.5 915.5,657.5 931.5,681.5 947.5,666.5 963.5,741.5 979.5,728.5 995.5,741.5 1011.5,736.5 1027.5,627.5 1043.5,694.5 1059.5,676.5 1075.5,628.5 1091.5,727.5 1107.5,723.5 1123.5,688.5 1139.5,672.5 1155.5,652.5 1171.5,621.5 1187.5,694.5 1203.5,697.5 1219.5,718.5 1235.5,763.5 1251.5,834.5 1267.5,898.5 1283.5,849.5 1299.5,770.5 1315.5,727.5 1331.5,715.5 1347.5,711.5 1363.5,674.5 1379.5,690.5 1395.5,628.5 1411.5,662.5 1427.5,632.5 1443.5,634.5 1459.5,642.5 1475.5,614.5 1491.5,621.5 1507.5,639.5 1523.5,613.5 1539.5,628.5 1555.5,656.5 1571.5,728.5 1587.5,717.5 1603.5,750.5 1619.5,798.5 1635.5,822.5 1651.5,865.5 1667.5,886.5 1683.5,901.5 1699.5,890.5 1715.5,885.5 1731.5,874.5 1747.5,901.5 1763.5,853.5 1779.5,841.5" fill="none" stroke="#00ffff" stroke-width="1"/>
</g>
<g stroke="#ffff00" stroke-width="1" fill="none" shape-rendering="crispEdges">
<path d="M595.5 435.5V554 M595.5 435.5L579.5 467.5 M595.5 435.5L611.5 464.5 M595.5 553.5L579.5 525.5 M595.5 553.5L611.5 526.5"/>
<path d="M1267.5 305.5V598 M1267.5 604V800.5 M1267.5 305.5L1251.5 337.5 M1267.5 305.5L1283.5 334.5 M1267.5 800.5L1251.5 758.5 M1267.5 800.5L1283.5 756.5"/>
</g>
<path d="M591 413.3V400H587.4L595 392L602.6 400H599V413.3Z" fill="none" stroke="#35a06a" stroke-width="1.9" stroke-linejoin="miter"/>
<path d="M1263.8 169V182.2H1260.2L1267.5 189.8L1274.8 182.2H1271.2V169Z" fill="none" stroke="#ff0000" stroke-width="2" stroke-linejoin="miter"/>
<text class="big" transform="translate(733 502.6) scale(1.01 1)" fill="#32cd32">BUY</text>
<text class="big" transform="translate(1292.6 123.6) scale(1.037 1)" fill="#ff0000">SELL</text>
<path d="M6 9h8l-4 4.5z" fill="#fff"/>
<text class="t" x="18.5" y="14" xml:space="preserve">USDCAD,M15  1.26856 1.26894 1.26848 1.26887</text>
<text class="t" x="7.5" y="616">%R(14) -79.5359</text>
<text class="t d" x="1588" y="48.8">D1:</text><text class="t d" x="1612" y="48.8" style="fill:#00e8e8;stroke:#00e8e8">0 %</text><text class="t d" x="1638.6" y="48.8" style="fill:#d8862e;stroke:#d8862e">|</text><text class="t d" x="1649" y="48.8">WK:</text><text class="t d" x="1677" y="48.8" style="fill:#00e8e8;stroke:#00e8e8">0 %</text><text class="t d" x="1703.3" y="48.8" style="fill:#d8862e;stroke:#d8862e">|</text><text class="t d" x="1716.3" y="48.8">MN:</text><text class="t d" x="1742" y="48.8" style="fill:#00e8e8;stroke:#00e8e8">0 %</text>
<text class="t n" x="1789.3" y="37">1.25595</text><text class="t n" x="1789.3" y="70">1.25555</text><text class="t n" x="1789.3" y="103">1.25515</text><text class="t n" x="1789.3" y="136">1.25475</text><text class="t n" x="1789.3" y="169">1.25435</text><text class="t n" x="1789.3" y="202">1.25395</text><text class="t n" x="1789.3" y="236">1.25355</text><text class="t n" x="1789.3" y="269">1.25315</text><text class="t n" x="1789.3" y="302">1.25275</text><text class="t n" x="1789.3" y="335">1.25235</text><text class="t n" x="1789.3" y="368">1.25195</text><text class="t n" x="1789.3" y="401">1.25155</text><text class="t n" x="1789.3" y="435">1.25115</text><text class="t n" x="1789.3" y="468">1.25075</text><text class="t n" x="1789.3" y="501">1.25035</text><text class="t n" x="1789.3" y="534">1.24995</text><text class="t n" x="1789.3" y="567">1.24955</text><text class="t n" x="1789.3" y="600">1.24915</text>
<text class="t" x="1787" y="614">0</text><text class="t" x="1786.3" y="668">-20</text><text class="t" x="1786.3" y="846">-80</text><text class="t" x="1786.3" y="899">-100</text>
<text class="t" x="2.1" y="915">3 Sep 2021</text><text class="t" x="66.1" y="915">3 Sep 14:30</text><text class="t" x="130.1" y="915">3 Sep 15:30</text><text class="t" x="194.1" y="915">3 Sep 16:30</text><text class="t" x="258.1" y="915">3 Sep 17:30</text><text class="t" x="322.1" y="915">3 Sep 18:30</text><text class="t" x="386.1" y="915">3 Sep 19:30</text><text class="t" x="450.1" y="915">3 Sep 20:30</text><text class="t" x="514.1" y="915">3 Sep 21:30</text><text class="t" x="578.1" y="915">3 Sep 22:30</text><text class="t" x="642.1" y="915">3 Sep 23:30</text><text class="t" x="706.1" y="915">6 Sep 00:30</text><text class="t" x="770.1" y="915">6 Sep 01:30</text><text class="t" x="834.1" y="915">6 Sep 02:30</text><text class="t" x="898.1" y="915">6 Sep 03:30</text><text class="t" x="962.1" y="915">6 Sep 04:30</text><text class="t" x="1026.1" y="915">6 Sep 05:30</text><text class="t" x="1090.1" y="915">6 Sep 06:30</text><text class="t" x="1154.1" y="915">6 Sep 07:30</text><text class="t" x="1218.1" y="915">6 Sep 08:30</text><text class="t" x="1282.1" y="915">6 Sep 09:30</text><text class="t" x="1346.1" y="915">6 Sep 10:30</text><text class="t" x="1410.1" y="915">6 Sep 11:30</text><text class="t" x="1474.1" y="915">6 Sep 12:30</text><text class="t" x="1538.1" y="915">6 Sep 13:30</text><text class="t" x="1602.1" y="915">6 Sep 14:30</text><text class="t" x="1666.1" y="915">6 Sep 15:30</text><text class="t" x="1730.1" y="915">6 Sep 16:30</text>
</svg>
</body></html>
